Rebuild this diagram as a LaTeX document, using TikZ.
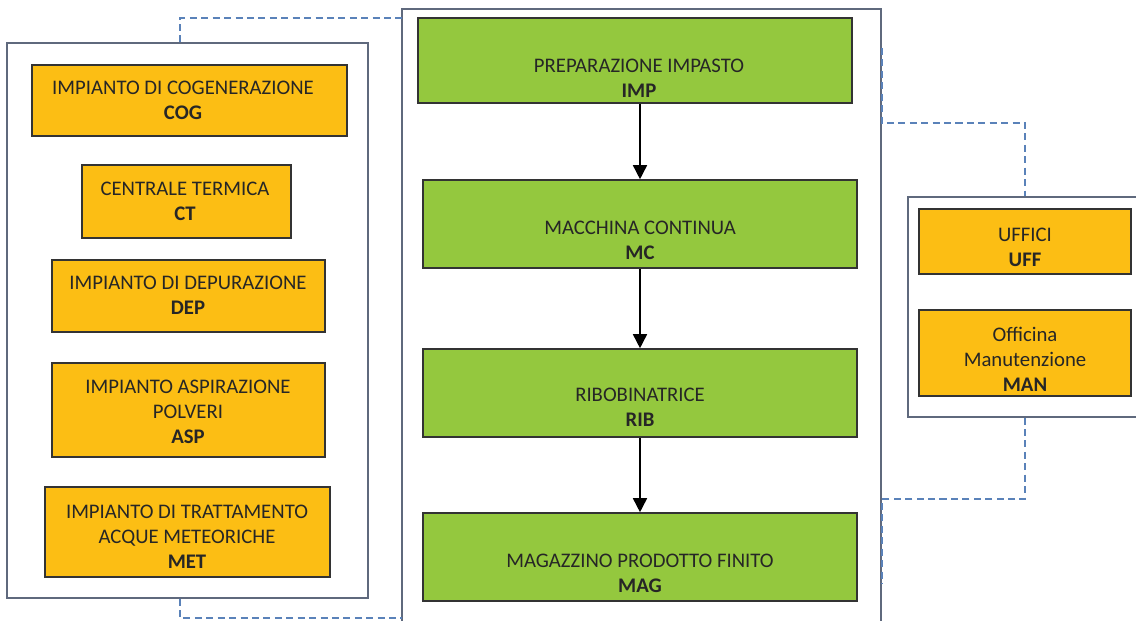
\documentclass[tikz,border=0pt]{standalone}
\usepackage{fontspec}
\setmainfont{Carlito}
\usetikzlibrary{arrows.meta,fit}
\definecolor{unitorange}{RGB}{252,190,20}
\definecolor{phasegreen}{RGB}{148,200,62}
\definecolor{linkblue}{RGB}{90,130,185}
\definecolor{framegray}{RGB}{95,105,125}
\tikzset{
  area/.style={rectangle,draw=framegray,line width=0.7pt,inner sep=0pt},
  unit/.style={rectangle,draw=black!80,fill=unitorange,line width=0.9pt,inner sep=0pt},
  phase/.style={rectangle,draw=black!80,fill=phasegreen,line width=0.9pt,inner sep=0pt},
  txt/.style={align=center,font=\fontsize{11.8}{14.2}\selectfont,text=black!85},
  link/.style={draw=linkblue,line width=1.2pt,dash pattern=on 4pt off 2.5pt},
  flow/.style={draw=black,line width=0.9pt,-{Triangle[width=8pt,length=8pt]}}
}
\begin{document}
\begin{tikzpicture}[x=0.02cm,y=-0.02cm]
  \fill[white] (0,0) rectangle (1136,621);
  \useasboundingbox (0,0) rectangle (1136,621);
  % areas
  \node[area,fit={(7,43) (368,598)}] (lft) {};
  \node[area,fit={(402,9) (881,640)}] (ctr) {};
  \node[area,fit={(908,197) (1142,417)}] (rgt) {};
  % auxiliary units
  \node[unit,fit={(32,65) (347,136)}] (cog) {};
  \node[unit,fit={(82,165) (291,238)}] (ct) {};
  \node[unit,fit={(52,260) (325,332)}] (dep) {};
  \node[unit,fit={(52,363) (325,457)}] (asp) {};
  \node[unit,fit={(45,487) (330,577)}] (met) {};
  \node[txt] (cog-t) at (183,100) {IMPIANTO DI COGENERAZIONE\\\textbf{COG}};
  \node[txt] (ct-t) at (185,201) {CENTRALE TERMICA\\\textbf{CT}};
  \node[txt] (dep-t) at (188,295) {IMPIANTO DI DEPURAZIONE\\\textbf{DEP}};
  \node[txt] (asp-t) at (188,412) {IMPIANTO ASPIRAZIONE\\POLVERI\\\textbf{ASP}};
  \node[txt] (met-t) at (187,537) {IMPIANTO DI TRATTAMENTO\\ACQUE METEORICHE\\\textbf{MET}};
  % production line
  \node[phase,fit={(418,18) (852,103)}] (imp) {};
  \node[phase,fit={(423,180) (857,268)}] (mc) {};
  \node[phase,fit={(423,349) (857,437)}] (rib) {};
  \node[phase,fit={(423,513) (857,601)}] (mag) {};
  \node[txt] (imp-t) at (639,78) {PREPARAZIONE IMPASTO\\\textbf{IMP}};
  \node[txt] (mc-t) at (640,240) {MACCHINA CONTINUA\\\textbf{MC}};
  \node[txt] (rib-t) at (640,407) {RIBOBINATRICE\\\textbf{RIB}};
  \node[txt] (mag-t) at (640,573) {MAGAZZINO PRODOTTO FINITO\\\textbf{MAG}};
  \draw[flow] (mc.north |- imp.south) -- (mc.north);
  \draw[flow] (mc) -- (rib);
  \draw[flow] (rib) -- (mag);
  % offices
  \node[unit,fit={(919,209) (1131,274)}] (uff) {};
  \node[unit,fit={(919,310) (1131,396)}] (man) {};
  \node[txt] (uff-t) at (1025,247) {UFFICI\\\textbf{UFF}};
  \node[txt] (man-t) at (1025,359) {Officina\\Manutenzione\\\textbf{MAN}};
  % dashed links
  \coordinate (k0) at (180,0);
  \coordinate (k1) at (402,18);
  \coordinate (k2) at (402,618);
  \coordinate (k3) at (882,48);
  \coordinate (k4) at (882,123);
  \coordinate (k5) at (882,499);
  \coordinate (k6) at (882,583);
  \draw[link] (lft.north -| k0) |- (k1);
  \draw[link] (lft.south -| k0) |- (k2);
  \draw[link] (k3) -- (k4) -| (rgt.north);
  \draw[link] (rgt.south) |- (k5) -- (k6);
\end{tikzpicture}
\end{document}
